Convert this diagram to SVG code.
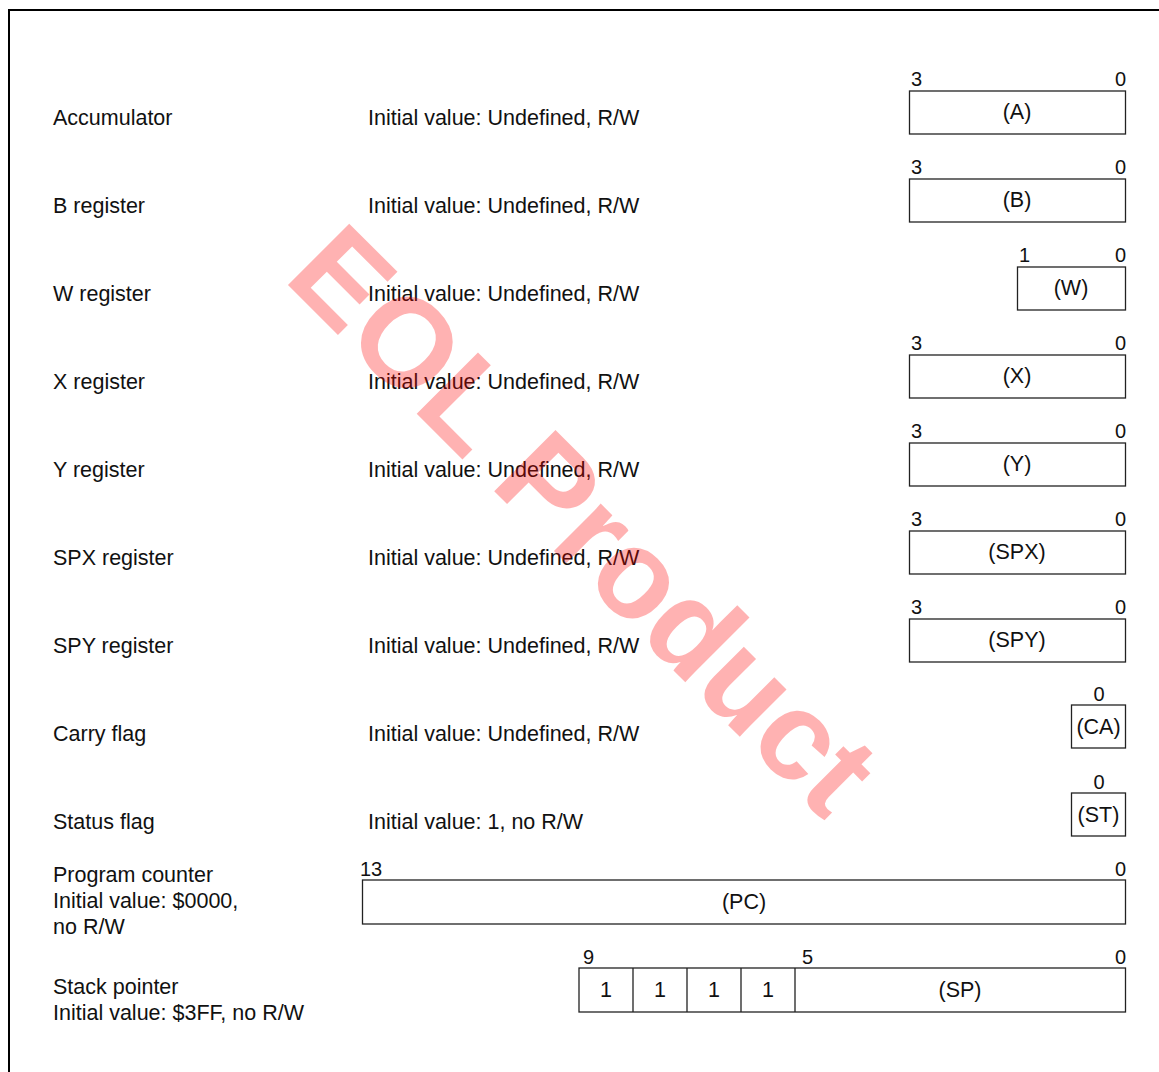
<svg xmlns="http://www.w3.org/2000/svg" width="1159" height="1072" viewBox="0 0 1159 1072">
<style>
text{font-family:"Liberation Sans",Arial,sans-serif;font-size:21.5px;fill:#111}
.b{font-size:20px}
.m{text-anchor:middle}
.e{text-anchor:end}
.box{fill:#fff;stroke:#222;stroke-width:1.3}
.wm{font-family:"Liberation Sans",Arial,sans-serif;font-weight:bold;font-size:126px;fill:#f00;fill-opacity:0.3}
</style>
<rect x="9" y="10" width="1170" height="1080" fill="#fff" stroke="#000" stroke-width="2"/>
<g id="labels">
<text x="53" y="124.5">Accumulator</text>
<text x="53" y="212.5">B register</text>
<text x="53" y="300.5">W register</text>
<text x="53" y="388.5">X register</text>
<text x="53" y="476.5">Y register</text>
<text x="53" y="564.5">SPX register</text>
<text x="53" y="652.5">SPY register</text>
<text x="53" y="740.5">Carry flag</text>
<text x="53" y="828.5">Status flag</text>
<text x="53" y="882">Program counter</text>
<text x="53" y="908">Initial value: $0000,</text>
<text x="53" y="934">no R/W</text>
<text x="53" y="994">Stack pointer</text>
<text x="53" y="1020">Initial value: $3FF, no R/W</text>
<text x="368" y="124.5">Initial value: Undefined, R/W</text>
<text x="368" y="212.5">Initial value: Undefined, R/W</text>
<text x="368" y="300.5">Initial value: Undefined, R/W</text>
<text x="368" y="388.5">Initial value: Undefined, R/W</text>
<text x="368" y="476.5">Initial value: Undefined, R/W</text>
<text x="368" y="564.5">Initial value: Undefined, R/W</text>
<text x="368" y="652.5">Initial value: Undefined, R/W</text>
<text x="368" y="740.5">Initial value: Undefined, R/W</text>
<text x="368" y="828.5">Initial value: 1, no R/W</text>
</g>
<g id="reg-a"><rect class="box" x="909.5" y="91" width="216" height="43"/><text class="b" x="911" y="86">3</text><text class="b e" x="1126" y="86">0</text><text class="m" x="1017" y="119">(A)</text></g>
<g id="reg-b"><rect class="box" x="909.5" y="179" width="216" height="43"/><text class="b" x="911" y="174">3</text><text class="b e" x="1126" y="174">0</text><text class="m" x="1017" y="207">(B)</text></g>
<g id="reg-w"><rect class="box" x="1017.5" y="267" width="108" height="43"/><text class="b" x="1019" y="262">1</text><text class="b e" x="1126" y="262">0</text><text class="m" x="1071" y="295">(W)</text></g>
<g id="reg-x"><rect class="box" x="909.5" y="355" width="216" height="43"/><text class="b" x="911" y="350">3</text><text class="b e" x="1126" y="350">0</text><text class="m" x="1017" y="383">(X)</text></g>
<g id="reg-y"><rect class="box" x="909.5" y="443" width="216" height="43"/><text class="b" x="911" y="438">3</text><text class="b e" x="1126" y="438">0</text><text class="m" x="1017" y="471">(Y)</text></g>
<g id="reg-spx"><rect class="box" x="909.5" y="531" width="216" height="43"/><text class="b" x="911" y="526">3</text><text class="b e" x="1126" y="526">0</text><text class="m" x="1017" y="559">(SPX)</text></g>
<g id="reg-spy"><rect class="box" x="909.5" y="619" width="216" height="43"/><text class="b" x="911" y="614">3</text><text class="b e" x="1126" y="614">0</text><text class="m" x="1017" y="647">(SPY)</text></g>
<g id="reg-ca"><rect class="box" x="1071.5" y="705" width="54" height="43"/><text class="b m" x="1099" y="701">0</text><text class="m" x="1098.5" y="734">(CA)</text></g>
<g id="reg-st"><rect class="box" x="1071.5" y="793" width="54" height="43"/><text class="b m" x="1099" y="789">0</text><text class="m" x="1098.5" y="822">(ST)</text></g>
<g id="reg-pc"><rect class="box" x="362.5" y="880" width="763" height="44"/><text class="b" x="360" y="876">13</text><text class="b e" x="1126" y="876">0</text><text class="m" x="744" y="909">(PC)</text></g>
<g id="reg-sp"><rect class="box" x="579" y="968" width="546.5" height="44"/>
<path class="box" d="M633 968V1012M687 968V1012M741 968V1012M795 968V1012"/>
<text class="b" x="583" y="964">9</text><text class="b" x="802" y="964">5</text><text class="b e" x="1126" y="964">0</text>
<text class="m" x="606" y="997">1</text><text class="m" x="660" y="997">1</text><text class="m" x="714" y="997">1</text><text class="m" x="768" y="997">1</text>
<text class="m" x="960" y="997">(SP)</text></g>
<g id="connectors"></g>
<text class="wm" transform="translate(282,279) rotate(45)">EOL Product</text>
</svg>
